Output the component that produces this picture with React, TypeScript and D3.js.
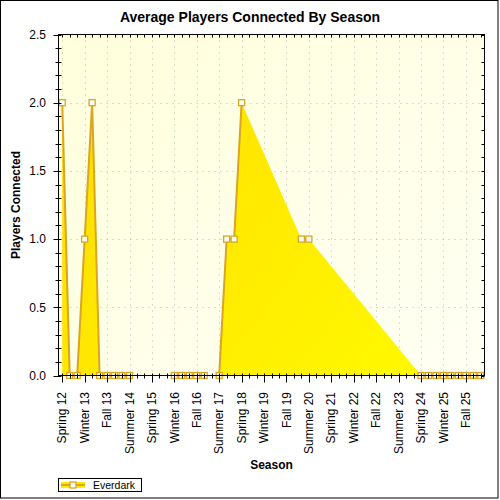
import React from "react";
import * as d3 from "d3";

const title = "Average Players Connected By Season";
const xTitle = "Season";
const yTitle = "Players Connected";
const seriesName = "Everdark";

const categories: string[] = [
  "Spring 12", "Summer 12", "Fall 12", "Winter 13",
  "Spring 13", "Summer 13", "Fall 13", "Winter 14",
  "Spring 14", "Summer 14", "Fall 14", "Winter 15",
  "Spring 15", "Summer 15", "Fall 15", "Winter 16",
  "Spring 16", "Summer 16", "Fall 16", "Winter 17",
  "Spring 17", "Summer 17", "Fall 17", "Winter 18",
  "Spring 18", "Summer 18", "Fall 18", "Winter 19",
  "Spring 19", "Summer 19", "Fall 19", "Winter 20",
  "Spring 20", "Summer 20", "Fall 20", "Winter 21",
  "Spring 21", "Summer 21", "Fall 21", "Winter 22",
  "Spring 22", "Summer 22", "Fall 22", "Winter 23",
  "Spring 23", "Summer 23", "Fall 23", "Winter 24",
  "Spring 24", "Summer 24", "Fall 24", "Winter 25",
  "Spring 25", "Summer 25", "Fall 25", "Winter 26",
  "Spring 26",
];

const values: (number | null)[] = [
  2, 0, 0, 1, 2, 0, 0, 0, 0, 0,
  null, null, null, null, null,
  0, 0, 0, 0, 0, null,
  0, 1, 1, 2,
  null, null, null, null, null, null, null,
  1, 1,
  null, null, null, null, null, null, null, null, null, null, null, null, null, null,
  0, 0, 0, 0, 0, 0, 0, 0, 0,
];

const yTicks: number[] = [0, 0.5, 1.0, 1.5, 2.0, 2.5];
const yMinorTicks: number[] = d3.range(0, 26).map((i) => i / 10);

const W = 500;
const H = 500;
const L = 58.5;
const R = 484.5;
const T = 34.5;
const B = 375.5;

const LINE = "#DAA520";
const FONT = "'Liberation Sans', Arial, sans-serif";

export default function App() {
  const x = d3.scalePoint<string>().domain(categories).range([L, R]).padding(0.5);
  const y = d3.scaleLinear().domain([0, 2.5]).range([B, T]);

  const pts = categories.map((c, i) => ({ c, i, v: values[i] }));
  const defined = pts.filter((p) => p.v !== null) as { c: string; i: number; v: number }[];

  const area = d3
    .area<{ c: string; v: number }>()
    .x((d) => x(d.c) as number)
    .y0(y(0))
    .y1((d) => y(d.v));

  const line = d3
    .line<{ c: string; v: number | null }>()
    .defined((d) => d.v !== null)
    .x((d) => x(d.c) as number)
    .y((d) => y(d.v as number));

  const majorIdx = categories.map((_, i) => i).filter((i) => i % 3 === 0);

  return (
    <svg
      width={W}
      height={H}
      style={{ position: "absolute", left: 0, top: 0, display: "block", background: "#fff" }}
      fontFamily={FONT}
    >
      <defs>
        <linearGradient id="bg" x1="0" y1="0" x2="1" y2="1">
          <stop offset="0" stopColor="#FFFFDC" />
          <stop offset="1" stopColor="#FFFFF4" />
        </linearGradient>
        <linearGradient id="fill" gradientUnits="userSpaceOnUse" x1={L} y1={T} x2={R} y2={B}>
          <stop offset="0" stopColor="#FFDA00" />
          <stop offset="1" stopColor="#FFFC00" />
        </linearGradient>
      </defs>
      <rect x={0.5} y={0.5} width={497.5} height={497.5} fill="#fff" stroke="#000" />
      <text x={250} y={22} textAnchor="middle" fontWeight="bold" fontSize={14}>
        {title}
      </text>
      <rect x={L} y={T} width={R - L} height={B - T} fill="url(#bg)" />
      {/* grid */}
      {yTicks
        .filter((v) => v > 0 && v < 2.5)
        .map((v) => (
          <line key={"gy" + v} x1={L} x2={R} y1={Math.round(y(v)) + 0.5} y2={Math.round(y(v)) + 0.5}
            stroke="#B8B8B8" strokeDasharray="1,5" />
        ))}
      {majorIdx.map((i) => {
        const px = Math.round(x(categories[i]) as number) + 0.5;
        return <line key={"gx" + i} x1={px} x2={px} y1={T} y2={B} stroke="#B8B8B8" strokeDasharray="1,5" />;
      })}
      {/* area */}
      <path d={area(defined) || ""} fill="url(#fill)" />
      <path d={line(pts) || ""} fill="none" stroke={LINE} strokeWidth={2} />
      {defined.map((p) => (
        <rect key={"m" + p.i} x={(x(p.c) as number) - 3} y={y(p.v) - 3} width={6} height={6}
          fill="#fff" stroke={LINE} strokeWidth={1.3} />
      ))}
      {/* frame */}
      <rect x={L} y={T} width={R - L} height={B - T} fill="none" stroke="#000" />
      {/* y ticks */}
      {yMinorTicks.map((v) => {
        const py = Math.round(y(v)) + 0.5;
        const major = Math.abs(v * 2 - Math.round(v * 2)) < 1e-6;
        return (
          <g key={"yt" + v}>
            <line x1={L - (major ? 5 : 3)} x2={L + 3} y1={py} y2={py} stroke="#000" />
            <line x1={R - 3} x2={R} y1={py} y2={py} stroke="#000" />
          </g>
        );
      })}
      {yTicks.map((v) => (
        <text key={"yl" + v} x={46} y={y(v)} dy="0.35em" textAnchor="end" fontSize={12}>
          {v.toFixed(1)}
        </text>
      ))}
      {/* x ticks */}
      {categories.map((c, i) => {
        const px = Math.round(x(c) as number) + 0.5;
        const major = i % 3 === 0;
        return (
          <g key={"xt" + i}>
            <line x1={px} x2={px} y1={B - 2} y2={B + (major ? 7 : 3)} stroke="#000" />
            <line x1={px} x2={px} y1={T} y2={T + 3} stroke="#000" />
          </g>
        );
      })}
      {majorIdx.map((i) => (
        <text key={"xl" + i} transform={`translate(${x(categories[i])},${392}) rotate(-90)`}
          textAnchor="end" dy="0.35em" fontSize={12}>
          {categories[i]}
        </text>
      ))}
      <text x={(L + R) / 2} y={469} textAnchor="middle" fontWeight="bold" fontSize={12}>
        {xTitle}
      </text>
      <text transform={`translate(19.5,${(T + B) / 2}) rotate(-90)`} textAnchor="middle"
        fontWeight="bold" fontSize={12}>
        {yTitle}
      </text>
      {/* legend */}
      <rect x={58.5} y={478.5} width={83} height={13} fill="#fff" stroke="#000" />
      <rect x={61} y={482} width={24} height={6} fill="url(#fill)" />
      <line x1={61} x2={85} y1={485} y2={485} stroke={LINE} strokeWidth={2} />
      <rect x={70} y={482} width={6} height={6} fill="#fff" stroke={LINE} strokeWidth={1.3} />
      <text x={93} y={489} fontSize={10.5}>
        {seriesName}
      </text>
    </svg>
  );
}
